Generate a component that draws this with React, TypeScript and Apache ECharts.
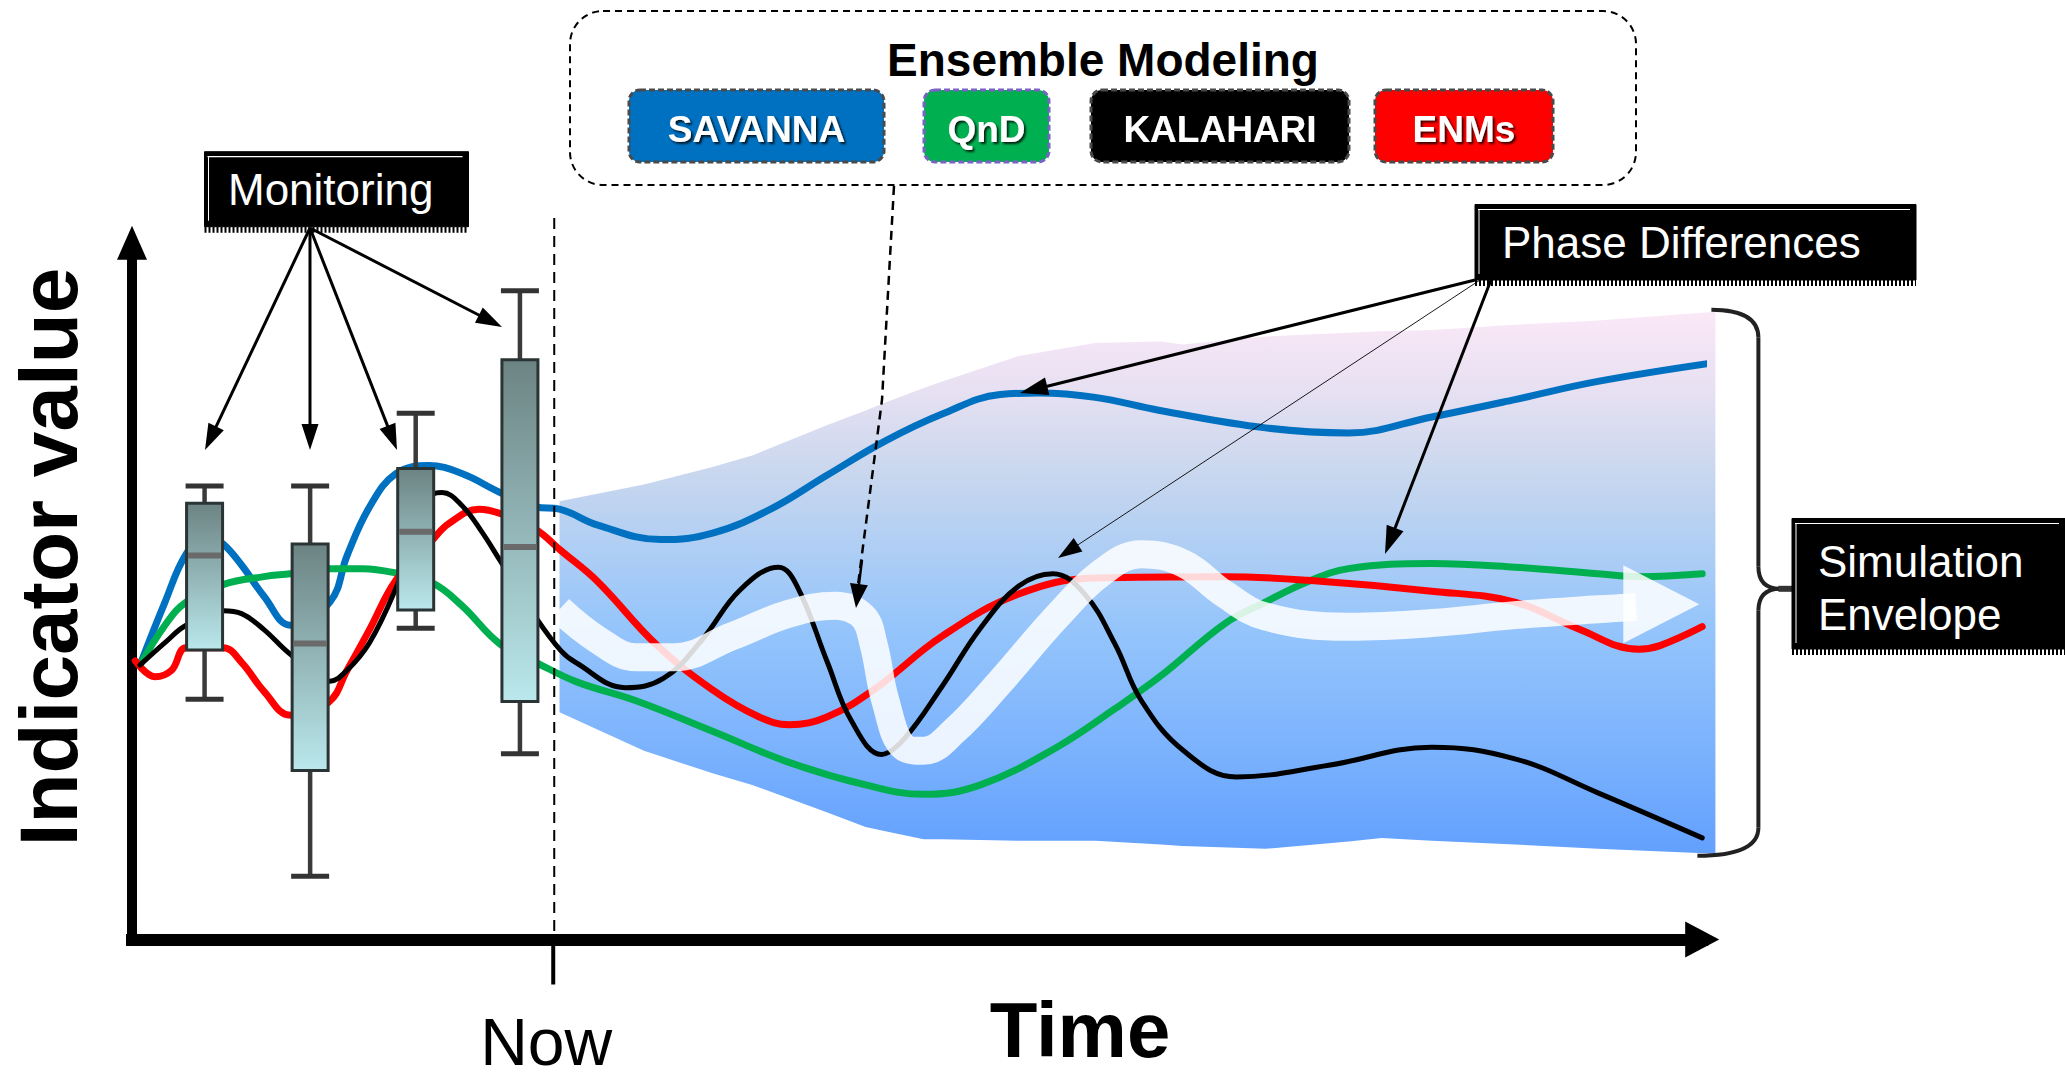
import React, { useEffect, useRef } from "react";
import * as echarts from "echarts";

// ---------- axis extents ----------
const X_MAX = 119;
const Y_MAX = 96;
const NOW_X = 32;

// ---------- model trajectories [time, indicator] ----------
const SAVANNA: number[][] = [
  [0.6, 37.8], [2.5, 46.5], [4.1, 53.1], [5.7, 55.8], [6.9, 54.5], [8.3, 51.6], [10, 47.3],
  [12, 43.3], [15, 46.5], [16.3, 52.9], [18, 59.6], [20, 64.2], [22.5, 65.3], [25, 64.2],
  [27.9, 61.6], [30.6, 59.6], [32.4, 59.3], [35.3, 57.1], [40.1, 55.1], [44, 56], [48.4, 59.3],
  [52.7, 64], [57.1, 68.7], [61.4, 72.4], [65.8, 75.1], [68.7, 75.3], [73, 74.7], [77.9, 72.9],
  [85.9, 70.5], [92.2, 69.8], [98.5, 72], [104.8, 74.4], [111.1, 76.9], [120.4, 79.6],
];
const QND: number[][] = [
  [0.6, 37.8], [2.5, 43.3], [4.1, 46.5], [6.9, 48.9], [10, 50], [12, 50.4], [15, 51.1],
  [17.5, 51.1], [20, 50.5], [22.8, 49.1], [25, 46], [27.9, 40.7], [30.6, 38.2], [33.7, 35.5],
  [38.2, 32.9], [44, 28.7], [49.8, 24.4], [55.6, 21.3], [60, 20], [64.3, 21.3], [70.1, 26.5],
  [74.5, 31.8], [78.1, 36.5], [82.8, 43.5], [85.9, 46.5], [89.1, 49.3], [92.2, 51.1],
  [98.5, 51.8], [104.8, 51.3], [111.1, 50.4], [114.2, 50], [119, 50.4],
];
const KALAHARI: number[][] = [
  [0.6, 37.8], [2.5, 40.9], [4.1, 43.3], [6.9, 45.3], [8.3, 44.9], [10, 42.7], [12, 39.3],
  [15, 35.6], [16.3, 37.1], [18, 40.9], [20, 48.4], [22.8, 61.3], [23.5, 61.6], [25, 59.8],
  [26.5, 56.2], [27.9, 52.2], [30.6, 44.4], [32.5, 39.8], [33.6, 38.2], [37.4, 34.7], [40.3, 36],
  [43.2, 41.3], [46.1, 48.2], [49, 51.3], [50.4, 48.7], [52.7, 38.2], [54.5, 30.2], [56.8, 25.5],
  [58.5, 27.6], [61.4, 34.9], [64.3, 42.9], [67.2, 48.7], [69.8, 50.4], [72.2, 47.6], [74.5, 40.7],
  [76.5, 32.9], [79.7, 26], [83.7, 22.4], [90.7, 24], [98.5, 26.5], [104.8, 24.9], [111.1, 20.2],
  [119, 14],
];
const ENMS: number[][] = [
  [0.25, 38.4], [1.75, 36.2], [3, 37.1], [4.1, 40.2], [6.9, 40.2], [8.3, 38.2], [10, 34.2],
  [12, 30.9], [14.9, 32.7], [16.3, 37.1], [18, 42.7], [20, 49.5], [22.8, 55.1], [24, 57.3],
  [26.3, 59.3], [27.9, 58.7], [30.6, 56.5], [32.5, 53.6], [35.3, 49.3], [39.7, 40.7], [44, 34.4],
  [47.5, 30.7], [49.8, 29.6], [52.7, 30.7], [56.2, 34.4], [61.4, 41.8], [67.2, 47.6], [73, 49.8],
  [82.8, 50], [89.1, 49.5], [98.5, 48], [104.8, 46.5], [109.5, 42.9], [114.2, 40], [115.8, 40.5],
  [119, 43.1],
];

// ---------- monitoring boxes [time, low, q1, median, q3, high] ----------
const BOXES: number[][] = [
  [5.5, 33.1, 39.9, 52.9, 60.1, 62.5],
  [13.5, 8.7, 23.3, 40.8, 54.5, 62.5],
  [21.5, 42.9, 45.4, 56.2, 64.9, 72.5],
  [29.4, 25.6, 32.8, 54.1, 79.9, 89.4],
];

// ---------- simulation envelope ----------
const ENV_X = [32.4, 38.8, 44, 47, 52.7, 55.6, 57.1, 60, 61.4, 67.2, 73, 78, 79.6, 85.9, 92.2, 94.7, 98.5, 104.8, 111.1, 120];
const ENV_TOP = [60.4, 62.7, 65.1, 66.7, 70.9, 72.9, 74, 76, 76.9, 80.4, 82.2, 82.4, 82, 83.1, 83.6, 83.8, 84, 84.7, 85.3, 86.5];
const ENV_BOTTOM = [31.3, 26, 22.9, 21.3, 17.5, 15.5, 14.9, 13.8, 13.8, 13.6, 13.6, 13.1, 12.9, 12.5, 13.5, 14, 13.6, 13.1, 12.5, 11.8];

// ---------- ensemble-mean (phase) arrow ----------
const ENSEMBLE_PATH: number[][] = [
  [32.4, 45.5], [35.3, 41.3], [38.2, 38.9], [41.1, 38.9], [45.5, 41.8], [49.8, 44.9], [53.3, 46],
  [55.4, 44.5], [56.2, 40.7], [57.1, 32.9], [58.5, 26.5], [60, 26], [62.3, 28.7], [65.8, 35.5],
  [70.1, 44.5], [73.6, 50.7], [76.5, 53.1], [79.7, 51.8], [82.8, 47.6], [85.9, 44.5], [92.2, 43.1],
  [98.5, 43.6], [104.8, 44.7], [111.1, 45.5], [114, 45.8],
];
const ENSEMBLE_HEAD = [115.9, 46.2];

// ---------- texts ----------
const MODELS = ["SAVANNA", "QnD", "KALAHARI", "ENMs"];
const MODEL_COLORS = ["#0070c0", "#00b050", "#000000", "#ff0000"];
const TITLE = "Ensemble Modeling";
const Y_LABEL = "Indicator value";
const X_LABEL = "Time";
const NOW_LABEL = "Now";

const FONT = '"Liberation Sans", Arial, Helvetica, sans-serif';

function arrowEls(x1: number, y1: number, x2: number, y2: number, lw: number, hl: number, hw: number, dash?: number[]) {
  const dx = x2 - x1, dy = y2 - y1;
  const len = Math.hypot(dx, dy);
  const ux = dx / len, uy = dy / len;
  const bx = x2 - ux * hl, by = y2 - uy * hl;
  const px = -uy, py = ux;
  return [
    { type: "line", silent: true, z: 100, shape: { x1, y1, x2: bx + ux * 2, y2: by + uy * 2 }, style: { stroke: "#000", lineWidth: lw, lineDash: dash } },
    { type: "polygon", silent: true, z: 100, shape: { points: [[x2, y2], [bx + (px * hw) / 2, by + (py * hw) / 2], [bx - (px * hw) / 2, by - (py * hw) / 2]] }, style: { fill: "#000" } },
  ];
}

function labelBox(x: number, y: number, w: number, h: number, lines: string[], tx: number, lineYs: number[]) {
  const els: any[] = [
    { type: "rect", z: 100, shape: { x, y, width: w, height: h }, style: { fill: "#000", stroke: "#000", lineWidth: 1 } },
    { type: "line", z: 101, shape: { x1: x + 3, y1: y + 5, x2: x + w - 6, y2: y + 5 }, style: { stroke: "#fff", lineWidth: 1.2 } },
    { type: "line", z: 101, shape: { x1: x + 4, y1: y + 5, x2: x + 4, y2: y + h - 6 }, style: { stroke: "#fff", lineWidth: 1 } },
    { type: "line", z: 101, shape: { x1: x, y1: y + h + 3, x2: x + w, y2: y + h + 3 }, style: { stroke: "#000", lineWidth: 6, lineDash: [2, 2] } },
  ];
  lines.forEach((t, i) => {
    els.push({
      type: "text", z: 102,
      style: { text: t, x: tx, y: lineYs[i], fill: "#fff", fontSize: 44, fontFamily: FONT, align: "left", verticalAlign: "middle" },
    });
  });
  return els;
}

export default function App() {
  const ref = useRef<HTMLDivElement>(null);

  useEffect(() => {
    if (!ref.current) return;
    const chart = echarts.init(ref.current, undefined, { renderer: "svg" });

    const envGradient = new echarts.graphic.LinearGradient(0, 0, 0, 1, [
      { offset: 0, color: "#fbe8f7" },
      { offset: 0.15, color: "#e6e0f2" },
      { offset: 0.3, color: "#c8d7ee" },
      { offset: 0.58, color: "#95c5fb" },
      { offset: 0.8, color: "#7cb3fd" },
      { offset: 1, color: "#62a0fe" },
    ]);

    const lineSeries = (name: string, data: number[][], color: string, width: number) => ({
      type: "line",
      name,
      data,
      smooth: 0.4,
      symbol: "none",
      clip: false,
      z: 3,
      lineStyle: { color, width, cap: "round", join: "round" },
    });

    const option: any = {
      animation: false,
      backgroundColor: "#ffffff",
      grid: { left: 132, right: 362.8, top: 242.8, bottom: 140.5 },
      xAxis: {
        type: "value",
        min: 0,
        max: X_MAX,
        axisLabel: { show: false },
        axisTick: { show: false },
        splitLine: { show: false },
        axisLine: {
          show: true,
          onZero: false,
          symbol: ["none", "triangle"],
          symbolSize: [36, 34],
          lineStyle: { color: "#000", width: 12, cap: "square" },
        },
      },
      yAxis: {
        type: "value",
        min: 0,
        max: Y_MAX,
        axisLabel: { show: false },
        axisTick: { show: false },
        splitLine: { show: false },
        axisLine: {
          show: true,
          onZero: false,
          symbol: ["none", "triangle"],
          symbolSize: [30, 34],
          lineStyle: { color: "#000", width: 10, cap: "square" },
        },
      },
      series: [
        {
          type: "custom",
          name: "Simulation Envelope",
          data: ENV_X.map((x, i) => [x, ENV_BOTTOM[i], ENV_TOP[i]]),
          encode: { x: 0, y: [1, 2] },
          clip: false,
          z: 1,
          renderItem: (params: any, api: any) => {
            if (params.dataIndex !== 0) return null;
            const top = ENV_X.map((x, i) => api.coord([x, ENV_TOP[i]]));
            const bot = ENV_X.map((x, i) => api.coord([x, ENV_BOTTOM[i]])).reverse();
            return {
              type: "polygon",
              shape: { points: top.concat(bot) },
              style: { fill: envGradient, stroke: "none" },
            };
          },
        },
        lineSeries("SAVANNA", SAVANNA, "#0070c0", 7),
        lineSeries("QnD", QND, "#00b050", 7),
        lineSeries("ENMs", ENMS, "#ff0000", 7),
        lineSeries("KALAHARI", KALAHARI, "#000000", 5),
        {
          type: "line",
          name: "ensemble",
          data: ENSEMBLE_PATH,
          smooth: 0.4,
          symbol: "none",
          clip: false,
          z: 4,
          lineStyle: { color: "#ffffff", width: 28, opacity: 0.85, cap: "butt", join: "round" },
        },
        {
          type: "scatter",
          name: "ensembleHead",
          data: [ENSEMBLE_HEAD],
          symbol: "triangle",
          symbolSize: [78, 76],
          symbolRotate: -90,
          clip: false,
          z: 4,
          itemStyle: { color: "#ffffff", opacity: 0.85 },
        },
        {
          type: "custom",
          name: "Monitoring",
          data: BOXES,
          clip: false,
          z: 5,
          encode: { x: 0, y: [1, 2, 3, 4, 5] },
          renderItem: (params: any, api: any) => {
            const x = api.value(0);
            const pLow = api.coord([x, api.value(1)]);
            const pQ1 = api.coord([x, api.value(2)]);
            const pMed = api.coord([x, api.value(3)]);
            const pQ3 = api.coord([x, api.value(4)]);
            const pHigh = api.coord([x, api.value(5)]);
            const cx = pLow[0];
            const w = 36;
            const cap = 38;
            const wStroke = { stroke: "#3a3a3a", lineWidth: 4.5 };
            const capStroke = { stroke: "#333", lineWidth: 5 };
            return {
              type: "group",
              children: [
                { type: "line", shape: { x1: cx, y1: pHigh[1], x2: cx, y2: pQ3[1] }, style: wStroke },
                { type: "line", shape: { x1: cx, y1: pQ1[1], x2: cx, y2: pLow[1] }, style: wStroke },
                { type: "line", shape: { x1: cx - cap / 2, y1: pHigh[1], x2: cx + cap / 2, y2: pHigh[1] }, style: capStroke },
                { type: "line", shape: { x1: cx - cap / 2, y1: pLow[1], x2: cx + cap / 2, y2: pLow[1] }, style: capStroke },
                {
                  type: "rect",
                  shape: { x: cx - w / 2, y: pQ3[1], width: w, height: pQ1[1] - pQ3[1] },
                  style: {
                    fill: new echarts.graphic.LinearGradient(0, 0, 0, 1, [
                      { offset: 0, color: "#6c8383" },
                      { offset: 1, color: "#bae8ec" },
                    ]),
                    stroke: "#2b3434",
                    lineWidth: 3,
                  },
                },
                { type: "line", shape: { x1: cx - w / 2 + 1.5, y1: pMed[1], x2: cx + w / 2 - 1.5, y2: pMed[1] }, style: { stroke: "#6a6a6a", lineWidth: 6 } },
              ],
            };
          },
        },
      ],
    };

    chart.setOption(option);

    const toPx = (p: number[]) => chart.convertToPixel({ gridIndex: 0 }, p) as number[];

    const nowBase = toPx([NOW_X, 0]);
    const nowPx = nowBase[0];

    const envLast = ENV_X.length - 1;
    const bTop = toPx([ENV_X[envLast], ENV_TOP[envLast]]);
    const bBot = toPx([ENV_X[envLast], ENV_BOTTOM[envLast]]);
    const bx0 = bTop[0] - 4;
    const bxR = bx0 + 47;
    const bMid = (bTop[1] + bBot[1]) / 2 + 6;
    const bTip = 1792;

    const g: any[] = [];

    // Now marker
    g.push({ type: "line", z: 50, shape: { x1: nowPx, y1: 218, x2: nowPx, y2: nowBase[1] }, style: { stroke: "#000", lineWidth: 2, lineDash: [11, 7] } });
    g.push({ type: "line", z: 50, shape: { x1: nowPx - 1, y1: nowBase[1], x2: nowPx - 1, y2: nowBase[1] + 45 }, style: { stroke: "#000", lineWidth: 4 } });
    g.push({ type: "text", z: 50, style: { text: NOW_LABEL, x: nowPx - 8, y: 1042, fill: "#000", fontSize: 66, fontFamily: FONT, align: "center", verticalAlign: "middle" } });

    // axis titles
    g.push({ type: "text", z: 50, style: { text: X_LABEL, x: 1080, y: 1030, fill: "#000", fontSize: 78, fontWeight: "bold", fontFamily: FONT, align: "center", verticalAlign: "middle" } });
    g.push({ type: "text", z: 50, x: 48, y: 557, rotation: Math.PI / 2, style: { text: Y_LABEL, x: 0, y: 0, fill: "#000", fontSize: 82, fontWeight: "bold", fontFamily: FONT, align: "center", verticalAlign: "middle" } });

    // brace
    const braceStyle = { stroke: "#222", lineWidth: 4, fill: "none" };
    g.push({ type: "bezierCurve", z: 50, shape: { x1: bx0, y1: bTop[1] - 2, x2: bxR, y2: bTop[1] + 26, cpx1: bxR, cpy1: bTop[1] - 2 }, style: braceStyle });
    g.push({ type: "line", z: 50, shape: { x1: bxR, y1: bTop[1] + 26, x2: bxR, y2: bMid - 22 }, style: braceStyle });
    g.push({ type: "bezierCurve", z: 50, shape: { x1: bxR, y1: bMid - 22, x2: bxR + 22, y2: bMid, cpx1: bxR, cpy1: bMid }, style: braceStyle });
    g.push({ type: "bezierCurve", z: 50, shape: { x1: bxR + 22, y1: bMid, x2: bxR, y2: bMid + 22, cpx1: bxR, cpy1: bMid }, style: braceStyle });
    g.push({ type: "line", z: 50, shape: { x1: bxR + 20, y1: bMid, x2: bTip, y2: bMid }, style: { stroke: "#333", lineWidth: 6 } });
    g.push({ type: "line", z: 50, shape: { x1: bxR, y1: bMid + 22, x2: bxR, y2: bBot[1] - 26 }, style: braceStyle });
    g.push({ type: "bezierCurve", z: 50, shape: { x1: bxR, y1: bBot[1] - 26, x2: bx0 - 14, y2: bBot[1] + 2, cpx1: bxR, cpy1: bBot[1] + 2 }, style: braceStyle });

    // ensemble modeling box
    g.push({ type: "rect", z: 60, shape: { x: 570, y: 11, width: 1066, height: 174, r: 33 }, style: { fill: "#fff", stroke: "#000", lineWidth: 2, lineDash: [7, 5] } });
    g.push({ type: "text", z: 61, style: { text: TITLE, x: 1103, y: 60, fill: "#000", fontSize: 46, fontWeight: "bold", fontFamily: FONT, align: "center", verticalAlign: "middle" } });
    const btnX = [629, 924, 1091, 1375];
    const btnW = [255, 125, 258, 178];
    MODELS.forEach((m, i) => {
      g.push({
        type: "rect", z: 61,
        shape: { x: btnX[i], y: 90, width: btnW[i], height: 72, r: 11 },
        style: { fill: MODEL_COLORS[i], stroke: i === 1 ? "#7a62c4" : "#4a4a4a", lineWidth: 3, lineDash: [6, 3] },
      });
      g.push({
        type: "text", z: 62,
        style: {
          text: m, x: btnX[i] + btnW[i] / 2, y: 129, fill: "#fff", fontSize: 37, fontWeight: "bold", fontFamily: FONT,
          align: "center", verticalAlign: "middle",
          textShadowColor: "rgba(0,0,0,0.8)", textShadowBlur: 2, textShadowOffsetX: 2, textShadowOffsetY: 2,
        },
      });
    });

    // dashed arrow from ensemble box down to the ensemble mean
    g.push({ type: "polyline", z: 100, shape: { points: [[894, 186], [882, 400], [858, 585]] }, style: { stroke: "#000", lineWidth: 2.5, lineDash: [9, 6], fill: "none" } });
    g.push(...arrowEls(862, 560, 856, 608, 2.5, 24, 18));

    // label boxes
    g.push(...labelBox(204.5, 151.7, 264, 75, ["Monitoring"], 228, [189]));
    g.push(...labelBox(1475, 204.5, 441, 75.5, ["Phase Differences"], 1502, [242]));
    g.push(...labelBox(1792, 518.5, 273, 130.5, ["Simulation", "Envelope"], 1818, [561, 614]));

    // Monitoring arrows
    const mo = [310, 228];
    [[205, 450], [310, 450], [397, 450], [502, 327]].forEach((t) => g.push(...arrowEls(mo[0], mo[1], t[0], t[1], 3, 26, 17)));

    // Phase differences arrows
    g.push(...arrowEls(1475, 280, 1020, 393, 3, 28, 18));
    g.push(...arrowEls(1480, 280, 1058, 558, 0.9, 24, 16));
    g.push(...arrowEls(1491, 280, 1385, 554, 3, 28, 18));

    chart.setOption({ graphic: { elements: g } });

    return () => chart.dispose();
  }, []);

  return <div ref={ref} style={{ position: "fixed", left: 0, top: 0, width: 2065, height: 1080, background: "#fff" }} />;
}
